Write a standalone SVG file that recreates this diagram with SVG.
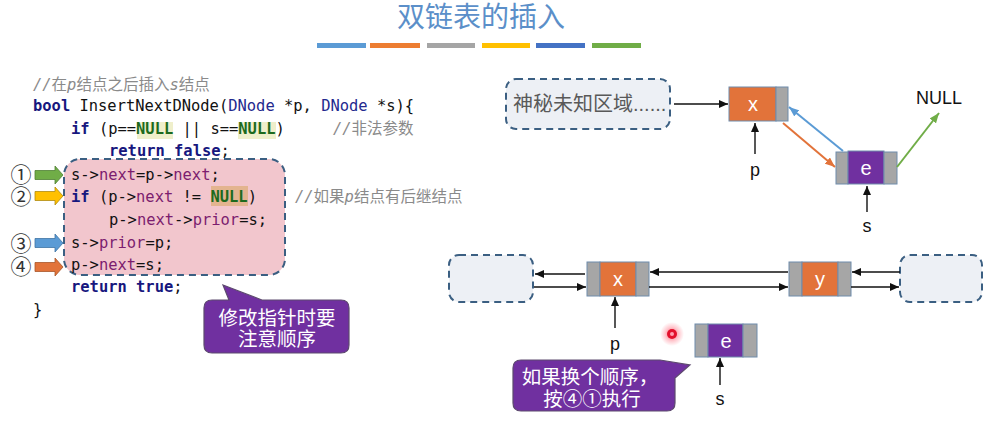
<svg xmlns="http://www.w3.org/2000/svg" width="985" height="423" viewBox="0 0 985 423">
  <style>
    .title { font-family: "Noto Sans CJK SC", "Noto Sans", sans-serif; font-size: 28px; fill: #5b8fc9; }
    .code { font-family: "DejaVu Sans Mono", "Liberation Mono", "Noto Sans CJK SC", monospace; font-size: 15.45px; fill: #111; white-space: pre; }
    .kw { font-weight: bold; fill: #17177e; }
    .ty { fill: #23288e; }
    .fld { fill: #7c1d6f; }
    .nul { font-weight: bold; fill: #1d6a1d; }
    .cm { font-family: "DejaVu Sans Mono", "Noto Sans CJK SC", monospace; font-size: 15.45px; fill: #8a8a8a; }
    .cmz { font-family: "Noto Sans CJK SC", sans-serif; font-size: 15.5px; fill: #8a8a8a; }
    .it { font-style: italic; }
    .num { font-family: "Noto Sans CJK SC", "DejaVu Sans", sans-serif; font-size: 21px; fill: #333; }
    .callout { fill: #7030a0; stroke: #5d4a6e; stroke-width: 1.2; }
    .ctext { font-family: "Noto Sans CJK SC", sans-serif; font-size: 19.5px; fill: #ffffff; text-anchor: middle; }
    .dash { fill: #edf0f5; stroke: #3b5f82; stroke-width: 2; stroke-dasharray: 7 5; }
    .pink { fill: #f2c6cd; stroke: #3b5f82; stroke-width: 2; stroke-dasharray: 7 5; }
    .cell { stroke: #6f8cab; stroke-width: 1; }
    .gray { fill: #a6a6a6; }
    .orange { fill: #e2733a; }
    .purple { fill: #7030a0; }
    .val { font-family: "Liberation Sans", "Open Sans", sans-serif; font-size: 20px; fill: #ffffff; text-anchor: middle; }
    .lbl { font-family: "Liberation Sans", "Open Sans", sans-serif; font-size: 18px; fill: #111; text-anchor: middle; }
    .blk { stroke: #111; stroke-width: 1.4; fill: none; marker-end: url(#ah-black); }
  </style>
  <defs>
    <marker id="ah-black" markerUnits="userSpaceOnUse" markerWidth="9" markerHeight="8" refX="9" refY="4" orient="auto">
      <path d="M0,0 L9,4 L0,8 z" fill="#111"/>
    </marker>
    <marker id="ah-blue" markerUnits="userSpaceOnUse" markerWidth="10" markerHeight="8" refX="10" refY="4" orient="auto">
      <path d="M0,0 L10,4 L0,8 z" fill="#5b9bd5"/>
    </marker>
    <marker id="ah-orange" markerUnits="userSpaceOnUse" markerWidth="10" markerHeight="8" refX="10" refY="4" orient="auto">
      <path d="M0,0 L10,4 L0,8 z" fill="#e2733a"/>
    </marker>
    <marker id="ah-green" markerUnits="userSpaceOnUse" markerWidth="10" markerHeight="8" refX="10" refY="4" orient="auto">
      <path d="M0,0 L10,4 L0,8 z" fill="#70ad47"/>
    </marker>
    <radialGradient id="glow">
      <stop offset="0" stop-color="#ff0020" stop-opacity="0.6"/>
      <stop offset="0.6" stop-color="#ff0020" stop-opacity="0.2"/>
      <stop offset="1" stop-color="#ff0020" stop-opacity="0"/>
    </radialGradient>
    <!-- block arrow used beside the numbered code steps -->
    <path id="step-arrow" d="M0,-4.5 L20,-4.5 L20,-9 L28,0 L20,9 L20,4.5 L0,4.5 Z"/>
  </defs>

  <!-- heading -->
  <g id="heading">
    <text class="title" x="481" y="27" text-anchor="middle">双链表的插入</text>
    <rect x="317" y="43" width="49" height="5" fill="#5b9bd5"/>
    <rect x="370" y="43" width="50" height="5" fill="#ed7d31"/>
    <rect x="427" y="43" width="48" height="5" fill="#a5a5a5"/>
    <rect x="482" y="43" width="48" height="5" fill="#ffc000"/>
    <rect x="536" y="43" width="49" height="5" fill="#4472c4"/>
    <rect x="592" y="43" width="49" height="5" fill="#70ad47"/>
  </g>

  <!-- code listing -->
  <g id="code">
    <rect class="pink" x="64" y="159" width="221" height="116" rx="16"/>
    <rect x="137" y="122" width="36" height="17" fill="#efefcb"/>
    <rect x="238" y="122" width="38" height="17" fill="#efefcb"/>
    <rect x="211" y="186" width="37" height="20" fill="#e3b48f"/>

    <text x="33" y="90"><tspan class="cm it">//</tspan><tspan class="cmz">在</tspan><tspan class="cm it">p</tspan><tspan class="cmz">结点之后插入</tspan><tspan class="cm it">s</tspan><tspan class="cmz">结点</tspan></text>
    <text class="code" x="33" y="111"><tspan class="kw">bool</tspan> InsertNextDNode(<tspan class="ty">DNode</tspan> *p, <tspan class="ty">DNode</tspan> *s){</text>
    <text class="code" x="71" y="134"><tspan class="kw">if</tspan> (p==<tspan class="nul">NULL</tspan> || s==<tspan class="nul">NULL</tspan>)</text>
    <text x="333" y="134"><tspan class="cm it">//</tspan><tspan class="cmz">非法参数</tspan></text>
    <text class="code" x="109" y="156"><tspan class="kw">return false</tspan>;</text>
    <text class="code" x="71" y="180">s-&gt;<tspan class="fld">next</tspan>=p-&gt;<tspan class="fld">next</tspan>;</text>
    <text class="code" x="71" y="202"><tspan class="kw">if</tspan> (p-&gt;<tspan class="fld">next</tspan> != <tspan class="nul">NULL</tspan>)</text>
    <text x="295" y="202"><tspan class="cm it">//</tspan><tspan class="cmz">如果</tspan><tspan class="cm it">p</tspan><tspan class="cmz">结点有后继结点</tspan></text>
    <text class="code" x="109" y="225">p-&gt;<tspan class="fld">next</tspan>-&gt;<tspan class="fld">prior</tspan>=s;</text>
    <text class="code" x="71" y="248">s-&gt;<tspan class="fld">prior</tspan>=p;</text>
    <text class="code" x="71" y="270">p-&gt;<tspan class="fld">next</tspan>=s;</text>
    <text class="code" x="71" y="292"><tspan class="kw">return true</tspan>;</text>
    <text class="code" x="33" y="315">}</text>
  </g>

  <!-- numbered steps -->
  <g id="step-1">
    <text class="num" x="21" y="182" text-anchor="middle">①</text>
    <use href="#step-arrow" x="35" y="175" fill="#70ad47" stroke="#4f7f33" stroke-width="0.8"/>
  </g>
  <g id="step-2">
    <text class="num" x="21" y="204" text-anchor="middle">②</text>
    <use href="#step-arrow" x="35" y="196" fill="#ffc000" stroke="#b08a10" stroke-width="0.8"/>
  </g>
  <g id="step-3">
    <text class="num" x="21" y="251" text-anchor="middle">③</text>
    <use href="#step-arrow" x="35" y="243" fill="#5b9bd5" stroke="#3f73a3" stroke-width="0.8"/>
  </g>
  <g id="step-4">
    <text class="num" x="21" y="274" text-anchor="middle">④</text>
    <use href="#step-arrow" x="35" y="267" fill="#e2733a" stroke="#a8552a" stroke-width="0.8"/>
  </g>

  <!-- note on pointer order -->
  <g id="note-order">
    <path class="callout" d="M212,300 L229,300 L223,285 L262,300 L341,300 Q349,300 349,308 L349,345 Q349,353 341,353 L212,353 Q204,353 204,345 L204,308 Q204,300 212,300 Z"/>
    <text class="ctext" x="277" y="325">修改指针时要</text>
    <text class="ctext" x="277" y="346">注意顺序</text>
  </g>

  <!-- upper example: x followed by the new node e -->
  <g id="unknown-area">
    <rect class="dash" x="506" y="79" width="164" height="50" rx="10"/>
    <text x="513" y="111" font-family="Noto Sans CJK SC, sans-serif" font-size="20" fill="#595959">神秘未知区域<tspan font-family="Liberation Sans, sans-serif">......</tspan></text>
  </g>
  <g id="node-x-top">
    <rect class="cell orange" x="729" y="87" width="47" height="34"/>
    <rect class="cell gray" x="776" y="87" width="12" height="34"/>
    <text class="val" x="753" y="111">x</text>
  </g>
  <g id="node-e-top">
    <rect class="cell gray" x="836" y="152" width="12" height="32"/>
    <rect class="cell purple" x="848" y="151" width="36" height="33"/>
    <rect class="cell gray" x="884" y="152" width="13" height="32"/>
    <text class="val" x="866" y="175">e</text>
  </g>
  <g id="label-p-top"><text class="lbl" x="755" y="176">p</text></g>
  <g id="label-s-top"><text class="lbl" x="867" y="232">s</text></g>
  <g id="label-null"><text class="lbl" x="939" y="104" font-size="17">NULL</text></g>

  <!-- lower example: x and y with the detached node e -->
  <g id="left-area"><rect class="dash" x="449" y="255" width="84" height="47" rx="10"/></g>
  <g id="right-area"><rect class="dash" x="900" y="255" width="82" height="47" rx="10"/></g>
  <g id="node-x">
    <rect class="cell gray" x="587" y="262" width="13" height="34"/>
    <rect class="cell orange" x="600" y="262" width="36" height="34"/>
    <rect class="cell gray" x="636" y="262" width="13" height="34"/>
    <text class="val" x="618" y="286">x</text>
  </g>
  <g id="node-y">
    <rect class="cell gray" x="789" y="262" width="13" height="34"/>
    <rect class="cell orange" x="802" y="262" width="36" height="34"/>
    <rect class="cell gray" x="838" y="262" width="13" height="34"/>
    <text class="val" x="820" y="286">y</text>
  </g>
  <g id="node-e">
    <rect class="cell gray" x="695" y="324" width="13" height="33"/>
    <rect class="cell purple" x="708" y="324" width="35" height="33"/>
    <rect class="cell gray" x="743" y="324" width="14" height="33"/>
    <text class="val" x="726" y="348">e</text>
  </g>
  <g id="label-p"><text class="lbl" x="615" y="350">p</text></g>
  <g id="label-s"><text class="lbl" x="720" y="405">s</text></g>

  <!-- laser pointer dot -->
  <g id="pointer-dot">
    <circle cx="672" cy="334" r="12" fill="url(#glow)"/>
    <circle cx="672" cy="334" r="5" fill="#e3102c"/>
    <circle cx="672" cy="334" r="2" fill="#ff9fb0"/>
  </g>

  <!-- note on swapped order -->
  <g id="note-swap">
    <path class="callout" d="M521,360 L660,360 L690,365 L675,378 L675,403 Q675,411 667,411 L521,411 Q513,411 513,403 L513,368 Q513,360 521,360 Z"/>
    <text class="ctext" x="590" y="384">如果换个顺序，</text>
    <text class="ctext" x="592" y="406">按④①执行</text>
  </g>

  <!-- connectors -->
  <g id="connectors">
    <line class="blk" x1="674" y1="104" x2="728" y2="104"/>
    <line class="blk" x1="755" y1="154" x2="755" y2="123"/>
    <line class="blk" x1="867" y1="212" x2="867" y2="186"/>
    <line x1="843" y1="151" x2="789" y2="107" stroke="#5b9bd5" stroke-width="2" marker-end="url(#ah-blue)"/>
    <line x1="783" y1="123" x2="835" y2="167" stroke="#e2733a" stroke-width="2" marker-end="url(#ah-orange)"/>
    <line x1="897" y1="167" x2="939" y2="113" stroke="#70ad47" stroke-width="2" marker-end="url(#ah-green)"/>

    <line class="blk" x1="585" y1="274" x2="535" y2="274"/>
    <line class="blk" x1="534" y1="287" x2="586" y2="287"/>
    <line class="blk" x1="788" y1="272" x2="650" y2="272"/>
    <line class="blk" x1="649" y1="287" x2="788" y2="287"/>
    <line class="blk" x1="900" y1="272" x2="852" y2="272"/>
    <line class="blk" x1="851" y1="287" x2="899" y2="287"/>
    <line class="blk" x1="615" y1="328" x2="615" y2="297"/>
    <line class="blk" x1="720" y1="385" x2="720" y2="358"/>
  </g>
</svg>
